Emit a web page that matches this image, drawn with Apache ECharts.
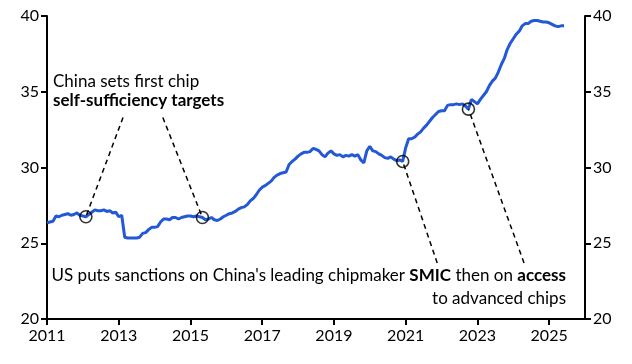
<!DOCTYPE html>
<html><head><meta charset="utf-8">
<script src="https://cdn.jsdelivr.net/npm/echarts@6/dist/echarts.min.js"></script>
<style>html,body{margin:0;padding:0;background:#fff}#c{width:632px;height:364px}</style>
</head><body><div id="c"></div>
<script>
// monthly values from Jan 2011
const startYear = 2011;
const values = [
 26.35,26.4,26.45,26.8,26.75,26.85,26.9,26.95,26.85,26.9,27.0,26.85,
 26.8,26.75,26.9,27.05,27.2,27.15,27.15,27.2,27.1,27.15,27.0,27.05,
 26.75,26.85,25.4,25.35,25.35,25.35,25.35,25.4,25.65,25.7,25.9,26.05,
 26.05,26.1,26.4,26.6,26.6,26.55,26.7,26.7,26.6,26.7,26.75,26.8,
 26.8,26.75,26.8,26.75,26.7,26.55,26.6,26.7,26.55,26.5,26.6,26.75,
 26.85,26.95,27.0,27.1,27.25,27.35,27.4,27.55,27.8,27.95,28.2,28.5,
 28.7,28.8,28.95,29.1,29.35,29.5,29.6,29.65,29.7,30.2,30.4,30.55,
 30.75,30.9,31.0,31.0,31.05,31.25,31.2,31.1,30.85,30.7,30.95,31.1,
 30.9,30.8,30.85,30.7,30.8,30.75,30.85,30.75,30.85,30.5,30.3,31.1,
 31.4,31.1,31.05,30.9,30.8,30.65,30.6,30.7,30.55,30.45,30.5,30.4,
 31.3,31.9,31.9,32.0,32.2,32.35,32.6,32.8,33.05,33.3,33.5,33.7,
 33.75,33.75,34.1,34.15,34.15,34.2,34.15,34.2,34.05,33.85,34.5,34.35,
 34.2,34.5,34.75,35.0,35.4,35.7,35.9,36.3,36.8,37.2,37.8,38.2,
 38.5,38.8,39.0,39.35,39.5,39.5,39.65,39.7,39.7,39.65,39.6,39.6,
 39.55,39.45,39.35,39.3,39.35,39.35
];
// event markers (month index from Jan 2011)
const eventMonths = [13, 52, 119, 141];
const yTicks = [20, 25, 30, 35, 40];
const xTickYears = [2011, 2013, 2015, 2017, 2019, 2021, 2023, 2025];
// annotation label anchor points [years since 2011, value]
const anchors = [[2.12, 33.3], [3.23, 33.3], [10.88, 23.7], [13.3, 23.7]];

const lineData = values.map((v, i) => [i / 12, v]);
const circleData = eventMonths.map(m => [m / 12, values[m]]);
const FONT = 'Lato';
const AF = 17;

const chart = echarts.init(document.getElementById('c'), null, {renderer: 'canvas'});
const yAxisCommon = {
  type: 'value', min: 20, max: 40, interval: 5,
  axisLine: {show: true, lineStyle: {color: '#000', width: 2}},
  axisTick: {show: true, length: 6, lineStyle: {color: '#000', width: 2}},
  splitLine: {show: false},
  axisLabel: {color: '#000', fontSize: 16, fontFamily: FONT, margin: 8}
};
chart.setOption({
  animation: false,
  grid: {left: 47, right: 47, top: 16, bottom: 45, containLabel: false},
  xAxis: {
    type: 'value', min: 0, max: 15, interval: 2,
    axisLine: {show: true, onZero: false, lineStyle: {color: '#000', width: 2}},
    axisTick: {show: true, length: 6, lineStyle: {color: '#000', width: 2}},
    splitLine: {show: false},
    axisLabel: {color: '#000', fontSize: 16, fontFamily: FONT, margin: 9, showMaxLabel: false,
      formatter: v => (xTickYears.includes(startYear + v) ? String(startYear + v) : '')}
  },
  yAxis: [
    Object.assign({position: 'left'}, yAxisCommon),
    Object.assign({position: 'right'}, yAxisCommon)
  ],
  series: [
    {type: 'line', data: lineData, showSymbol: false, symbol: 'none',
     lineStyle: {color: '#2358d6', width: 3}, z: 2},
    {type: 'scatter', data: circleData, symbol: 'circle', symbolSize: 12,
     itemStyle: {color: 'rgba(0,0,0,0)', borderColor: '#000', borderWidth: 1.6}, z: 4,
     markLine: {silent: true, symbol: ['none', 'none'], label: {show: false},
       lineStyle: {color: '#000', width: 1.5, type: [5, 4]},
       data: circleData.map((c, i) => [{coord: anchors[i]}, {coord: c}])}
    }
  ],
  graphic: [
    {type: 'text', x: 53, y: 82, style: {text: 'China sets first chip', verticalAlign: 'middle', fill: '#000', font: AF + 'px ' + FONT}},
    {type: 'text', x: 53, y: 101, style: {text: 'self-sufficiency targets', verticalAlign: 'middle', fill: '#000', font: 'bold ' + AF + 'px ' + FONT}},
    {type: 'text', x: 566, y: 276, style: {
      text: "US puts sanctions on China's leading chipmaker {b|SMIC} then on {b|access}",
      align: 'right', verticalAlign: 'middle', fill: '#000', font: AF + 'px ' + FONT,
      rich: {b: {fontWeight: 'bold', fontSize: AF, fontFamily: FONT}}}},
    {type: 'text', x: 566, y: 299, style: {text: 'to advanced chips', align: 'right', verticalAlign: 'middle',
      fill: '#000', font: AF + 'px ' + FONT}}
  ]
});
</script></body></html>
